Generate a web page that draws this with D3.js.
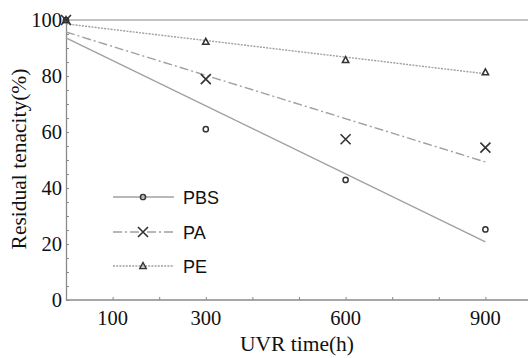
<!DOCTYPE html>
<html><head><meta charset="utf-8">
<script src="https://cdn.jsdelivr.net/npm/d3@7"></script>
<style>body{margin:0;background:#fff}svg{display:block}</style>
</head><body>
<script>
const seriesNames = ["PBS", "PA", "PE"];
const times = [0, 300, 600, 900];
const pbsValues = [100, 61, 42.9, 25.2];
const paValues = [100, 78.9, 57.4, 54.4];
const peValues = [100, 92.2, 85.7, 81.3];
// fitted trend lines: value at t=0 and t=900
const fitTimes = [0, 900];
const pbsFit = [93.6, 20.8];
const paFit = [95.7, 49.3];
const peFit = [98.6, 80.8];
const xTickLabels = [100, 300, 600, 900];
const xMinorTicks = [100, 200, 300, 400, 500, 600, 700, 800, 900];
const yTickLabels = [0, 20, 40, 60, 80, 100];

const W = 528, H = 358;
const svg = d3.select("body").append("svg").attr("width", W).attr("height", H);
const x = d3.scaleLinear().domain([0, 1000]).range([66, 532]);
const y = d3.scaleLinear().domain([0, 100]).range([300, 20]);
const axisColor = "#8a8a8a", lineColor = "#a0a0a0", markColor = "#333";
const serif = "Liberation Serif, Times New Roman, serif";

// top line
svg.append("line").attr("x1", x(0)).attr("x2", W).attr("y1", y(100)).attr("y2", y(100))
  .attr("stroke", "#b0b0b0").attr("stroke-width", 1.6);

// axes
const xAxis = svg.append("g").attr("transform", `translate(0,${y(0)})`)
  .call(d3.axisBottom(x).tickValues(xMinorTicks).tickSizeInner(-3).tickSizeOuter(0).tickFormat(""));
const yMinor = d3.range(0, 101, 5);
const yAxis = svg.append("g").attr("transform", `translate(${x(0)},0)`)
  .call(d3.axisLeft(y).tickValues(yMinor).tickSizeInner(-3).tickSizeOuter(0).tickFormat(""));
[xAxis, yAxis].forEach(g => {
  g.select(".domain").attr("stroke", axisColor).attr("stroke-width", 1.3);
  g.selectAll(".tick line").attr("stroke", axisColor);
});
xAxis.select(".domain").attr("d", `M${x(0)},0H${W}`);

svg.selectAll(".xlab").data(xTickLabels).enter().append("text")
  .attr("x", d => x(d)).attr("y", 325).attr("text-anchor", "middle")
  .attr("font-family", serif).attr("font-size", 20.5).attr("fill", "#111")
  .text(d => d);
svg.selectAll(".ylab").data(yTickLabels).enter().append("text")
  .attr("x", 62).attr("y", d => y(d) + 7).attr("text-anchor", "end")
  .attr("font-family", serif).attr("font-size", 20.5).attr("fill", "#111")
  .text(d => d);

svg.append("text").attr("x", 297).attr("y", 351).attr("text-anchor", "middle")
  .attr("font-family", serif).attr("font-size", 21.5).attr("fill", "#111")
  .text("UVR time(h)");
svg.append("text").attr("transform", "translate(26,159) rotate(-90)").attr("text-anchor", "middle")
  .attr("font-family", serif).attr("font-size", 21.5).attr("fill", "#111")
  .text("Residual tenacity(%)");

const dashes = [null, "9,3,2,3", "2,1.2"];
const fits = [pbsFit, paFit, peFit];
const vals = [pbsValues, paValues, peValues];
const line = d3.line().x(d => x(d[0])).y(d => y(d[1]));
fits.forEach((f, i) => {
  svg.append("path").attr("d", line(fitTimes.map((t, j) => [t, f[j]])))
    .attr("fill", "none").attr("stroke", lineColor).attr("stroke-width", 1.4)
    .attr("stroke-dasharray", dashes[i]);
});

function marker(g, type, cx, cy) {
  if (type === 0) {
    g.append("circle").attr("cx", cx).attr("cy", cy).attr("r", 2.6)
      .attr("fill", "none").attr("stroke", markColor).attr("stroke-width", 1.5);
  } else if (type === 1) {
    const s = 5;
    g.append("path").attr("d", `M${cx-s},${cy-s}L${cx+s},${cy+s}M${cx-s},${cy+s}L${cx+s},${cy-s}`)
      .attr("stroke", markColor).attr("stroke-width", 1.6);
  } else {
    g.append("path").attr("d", `M${cx},${cy-3.5}L${cx+3.2},${cy+2.5}L${cx-3.2},${cy+2.5}Z`)
      .attr("fill", "none").attr("stroke", markColor).attr("stroke-width", 1.5);
  }
}
vals.forEach((v, i) => {
  const g = svg.append("g");
  v.forEach((d, j) => marker(g, i, x(times[j]), y(d)));
});

// legend
const legY = [197, 232, 266];
seriesNames.forEach((n, i) => {
  svg.append("line").attr("x1", 113).attr("x2", 174).attr("y1", legY[i]).attr("y2", legY[i])
    .attr("stroke", lineColor).attr("stroke-width", 1.4).attr("stroke-dasharray", dashes[i]);
  marker(svg, i, 143, legY[i]);
  svg.append("text").attr("x", 183).attr("y", legY[i] + 6.5).attr("font-family", "Liberation Sans, Arial, sans-serif")
    .attr("font-size", 18).attr("fill", "#111").text(n);
});
</script>
</body></html>
